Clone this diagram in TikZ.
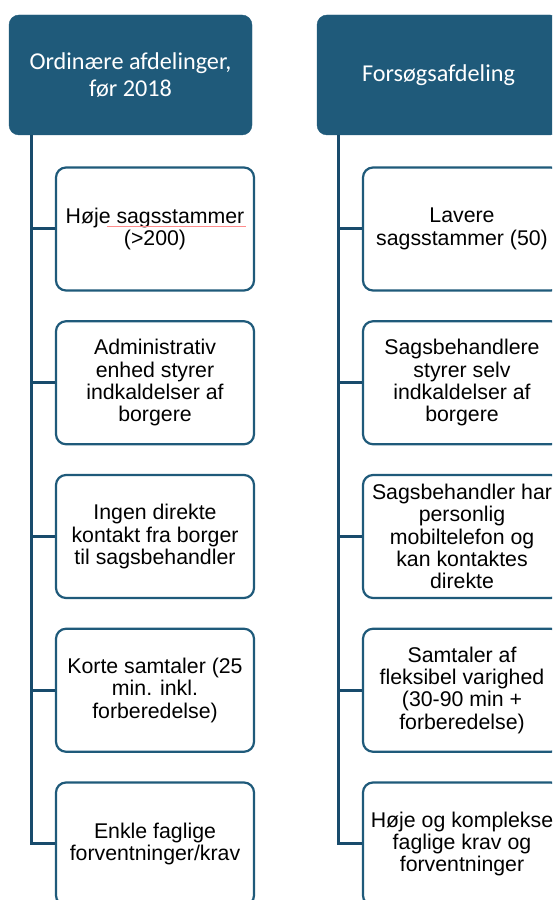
\documentclass[tikz,border=0pt]{standalone}
\usepackage{fontspec}
\setmainfont{Liberation Sans}
\newfontfamily\headfont{Carlito}
\usetikzlibrary{positioning}
\definecolor{headblue}{HTML}{1F5A7A}
\definecolor{trunkblue}{HTML}{184B6C}
\tikzset{
	head box/.style={rectangle, rounded corners=10pt, fill=headblue, draw=headblue, minimum width=243pt, minimum height=120pt, text=white, align=center, font=\headfont\fontsize{24.2}{27.5}\selectfont},
	item box/.style={rectangle, rounded corners=10pt, draw=headblue, line width=2.2pt, fill=white, minimum width=198pt, minimum height=123pt, align=center, inner sep=0pt, font=\fontsize{21.3}{22.3}\selectfont},
	branch/.style={draw=trunkblue, line width=3pt}
}

\begin{document}
\begin{tikzpicture}[x=1pt, y=1pt]
	\useasboundingbox (0,0) rectangle (552,900);
	\clip (0,0) rectangle (552,900);

	\node [head box] (lhead) at (130.5,825) {Ordinære afdelinger,\\før 2018};
	\node [head box] (rhead) at (438.5,825) {Forsøgsafdeling};

	\foreach \txt [count=\i] in {{Høje sagsstammer\\(>200)},
			{Administrativ\\enhed styrer\\indkaldelser af\\borgere},
			{Ingen direkte\\kontakt fra borger\\til sagsbehandler},
			{Korte samtaler (25\\min. inkl.\\forberedelse)},
			{Enkle faglige\\forventninger/krav}}{
		\pgfmathsetmacro\y{671 - 153.75*(\i-1)}
		\node [item box] (l\i) at (155,\y) {\txt};
	}
	\foreach \txt [count=\i] in {{Lavere\\sagsstammer (50)},
			{Sagsbehandlere\\styrer selv\\indkaldelser af\\borgere},
			{Sagsbehandler har\\personlig\\mobiltelefon og\\kan kontaktes\\direkte},
			{Samtaler af\\fleksibel varighed\\(30-90 min +\\forberedelse)},
			{Høje og komplekse\\faglige krav og\\forventninger}}{
		\pgfmathsetmacro\y{671 - 153.75*(\i-1)}
		\node [item box] (r\i) at (462,\y) {\txt};
	}

	% trunks
	\coordinate (ltop) at ([xshift=23pt]lhead.south west);
	\coordinate (rtop) at ([xshift=22pt]rhead.south west);
	\draw [branch] (ltop) |- (l5.west);
	\draw [branch] (rtop) |- (r5.west);
	\foreach \i in {1,...,4}{
		\draw [branch] (l\i.west) -- (l\i.west -| ltop);
		\draw [branch] (r\i.west) -- (r\i.west -| rtop);
	}

	% spelling mark
	\draw [red!45, line width=0.8pt] ([shift={(-48,3)}]l1.center) -- ([shift={(91,3)}]l1.center);
\end{tikzpicture}
\end{document}
